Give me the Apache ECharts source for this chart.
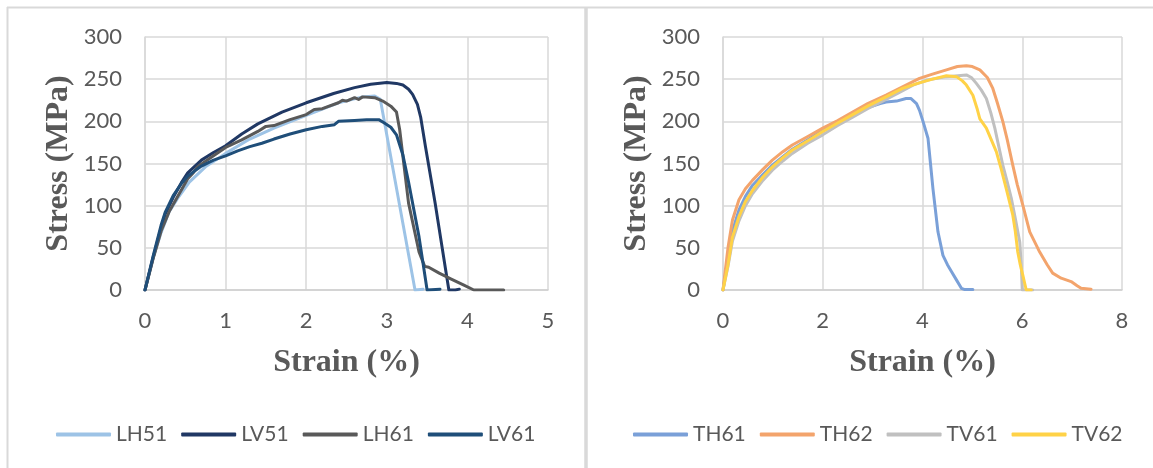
<!DOCTYPE html>
<html>
<head>
<meta charset="utf-8">
<script src="https://cdn.jsdelivr.net/npm/echarts@6/dist/echarts.min.js"></script>
<style>
html,body{margin:0;padding:0;background:#fff;}
#c{width:1153px;height:468px;}
</style>
</head>
<body>
<div id="c"></div>
<script>
// ---------- Left panel data (strain %, stress MPa) ----------
const xTicksLeft = [0, 1, 2, 3, 4, 5];
const yTicks = [0, 50, 100, 150, 200, 250, 300];

const LH51_strain = [0,0.1,0.2,0.3,0.4,0.55,0.75,1.0,1.3,1.6,2.0,2.4,2.7,2.85,2.92,3.35,3.45];
const LH51_stress = [0,38,68,93,108,128,146,162,179,192,207,222,229,230,226,0,1];

const LV51_strain = [0,0.1,0.2,0.25,0.35,0.45,0.53,0.7,0.85,1.0,1.2,1.4,1.7,2.0,2.34,2.6,2.8,3.0,3.12,3.2,3.27,3.32,3.38,3.42,3.48,3.6,3.73,3.77,3.85,3.9];
const LV51_stress = [0,38,74,90,110,127,139,154,163,171,185,197,211,222,233,240,244,246,245,243,238,232,220,205,170,103,24,0,0,1];

const LH61_strain = [0,0.1,0.2,0.3,0.4,0.53,0.6,0.65,0.8,1.0,1.2,1.4,1.5,1.6,1.8,2.0,2.1,2.2,2.4,2.45,2.5,2.6,2.65,2.7,2.85,2.95,3.05,3.12,3.16,3.27,3.4,3.47,3.52,3.65,3.8,3.95,4.08,4.45];
const LH61_stress = [0,37,70,93,110,132,139,146,156,169,178,188,194,195,202,208,214,215,222,225,224,228,226,229,228,224,218,211,190,103,45,28,27,20,13,6,0,0];

const LV61_strain = [0,0.1,0.2,0.25,0.35,0.45,0.53,0.7,0.85,1.0,1.15,1.3,1.45,1.6,1.8,2.0,2.2,2.35,2.4,2.6,2.75,2.9,2.97,3.05,3.12,3.2,3.27,3.4,3.5,3.66];
const LV61_stress = [0,40,77,92,112,126,135,147,154,159,165,170,174,179,185,190,194,196,200,201,202,202,198,193,184,160,128,63,0,1];

// ---------- Right panel data ----------
const xTicksRight = [0, 2, 4, 6, 8];

const TH61_strain = [0,0.1,0.19,0.32,0.45,0.59,0.8,0.99,1.2,1.39,1.7,2.0,2.3,2.6,2.94,3.15,3.27,3.48,3.67,3.77,3.88,3.94,4.01,4.11,4.16,4.21,4.31,4.41,4.5,4.58,4.68,4.78,4.85,5.01];
const TH61_stress = [0,38,70,95,111,124,137,148,158,167,178,189,199,208,217,221,223,224,227,227,221,213,200,180,150,120,69,41,30,22,12,2,0.5,0.5];

const TH62_strain = [0,0.1,0.19,0.32,0.45,0.59,0.8,0.99,1.2,1.39,1.7,2.0,2.3,2.6,2.9,3.27,3.6,3.94,4.2,4.48,4.7,4.88,5.0,5.15,5.3,5.41,5.5,5.61,5.7,5.81,5.9,6.01,6.15,6.35,6.5,6.61,6.78,6.98,7.1,7.18,7.38];
const TH62_stress = [0,50,83,107,120,130,143,154,164,172,182,192,201,211,221,231,241,251,256,261,265,266,265,261,252,239,222,200,178,148,125,101,69,45,30,20,14,10,5,2,1];

const TV61_strain = [0,0.1,0.19,0.32,0.45,0.59,0.8,0.99,1.2,1.39,1.7,2.0,2.3,2.6,2.9,3.2,3.5,3.81,4.1,4.48,4.88,4.98,5.08,5.18,5.28,5.37,5.45,5.53,5.61,5.7,5.78,5.87,5.95,5.98,6.0,6.21];
const TV61_stress = [0,28,58,82,100,114,130,142,153,162,174,184,195,205,215,224,233,243,249,253,255,252,245,237,227,210,192,170,148,128,109,82,57,30,0,0];

const TV62_strain = [0,0.1,0.19,0.32,0.45,0.59,0.8,0.99,1.2,1.39,1.7,2.0,2.3,2.6,2.9,3.27,3.6,3.9,4.2,4.48,4.68,4.8,4.88,5.01,5.1,5.15,5.28,5.38,5.48,5.58,5.68,5.81,5.86,5.91,5.96,6.01,6.08,6.18];
const TV62_stress = [0,30,63,87,105,118,134,146,157,166,177,188,198,208,218,229,239,245,250,254,253,248,243,231,214,203,192,178,164,143,120,89,70,45,30,18,0,0];

const leftNames = ['LH51','LV51','LH61','LV61'];
const rightNames = ['TH61','TH62','TV61','TV62'];
const colors = {
  LH51:'#9dc3e6', LV51:'#203864', LH61:'#595959', LV61:'#1f4e79',
  TH61:'#7aa0d8', TH62:'#f3a46c', TV61:'#c0c0c0', TV62:'#ffd247'
};
const dataMap = {
  LH51:[LH51_strain,LH51_stress], LV51:[LV51_strain,LV51_stress],
  LH61:[LH61_strain,LH61_stress], LV61:[LV61_strain,LV61_stress],
  TH61:[TH61_strain,TH61_stress], TH62:[TH62_strain,TH62_stress],
  TV61:[TV61_strain,TV61_stress], TV62:[TV62_strain,TV62_stress]
};
function pairs(n){ const [x,y]=dataMap[n]; return x.map((v,i)=>[v,y[i]]); }

const tickFont = {color:'#595959', fontFamily:'Lato', fontSize:22};
const titleFont = {color:'#595959', fontFamily:'Liberation Serif', fontWeight:'bold', fontSize:32};
const gridLine = {show:true, lineStyle:{color:'#d9d9d9', width:1.5}};

function xAxis(idx, ticks){
  return {
    type:'value', gridIndex:idx, min:ticks[0], max:ticks[ticks.length-1],
    interval:ticks[1]-ticks[0],
    name:'Strain (%)', nameLocation:'middle', nameGap:57, nameTextStyle:titleFont,
    axisLine:{show:true, lineStyle:{color:'#d0d0d0', width:1.5}},
    axisTick:{show:false},
    axisLabel:Object.assign({margin:20}, tickFont),
    splitLine:gridLine
  };
}
function yAxis(idx){
  return {
    type:'value', gridIndex:idx, min:yTicks[0], max:yTicks[yTicks.length-1],
    interval:yTicks[1]-yTicks[0],
    name:'Stress (MPa)', nameLocation:'middle', nameGap:70, nameTextStyle:titleFont,
    axisLine:{show:true, lineStyle:{color:'#d9d9d9', width:1.5}},
    axisTick:{show:false},
    axisLabel:Object.assign({margin:23}, tickFont),
    splitLine:gridLine
  };
}
function mkSeries(n, idx){
  return {
    name:n, type:'line', xAxisIndex:idx, yAxisIndex:idx,
    data:pairs(n), showSymbol:false, symbol:'none',
    smooth:false,
    lineStyle:{color:colors[n], width:3, cap:'round', join:'round'},
    itemStyle:{color:colors[n]},
    emphasis:{disabled:true}, animation:false
  };
}
function legend(names, left){
  return {
    data:names.map(n=>({name:n, icon:'roundRect', itemStyle:{color:colors[n]}})),
    left:left, top:424, width:560, padding:0, orient:'horizontal',
    itemWidth:55, itemHeight:4, itemGap:14,
    textStyle:{color:'#595959', fontFamily:'Lato', fontSize:21},
    selectedMode:false
  };
}

const chart = echarts.init(document.getElementById('c'), null, {renderer:'canvas'});
chart.setOption({
  animation:false,
  backgroundColor:'#ffffff',
  grid:[
    {left:145, top:37, width:403, height:253},
    {left:723, top:37, width:399, height:253}
  ],
  xAxis:[xAxis(0, xTicksLeft), xAxis(1, xTicksRight)],
  yAxis:[yAxis(0), yAxis(1)],
  legend:[legend(leftNames, 56), legend(rightNames, 633)],
  series:[...leftNames.map(n=>mkSeries(n,0)), ...rightNames.map(n=>mkSeries(n,1))],
  graphic:[
    {type:'line', shape:{x1:7, y1:7.5, x2:1153, y2:7.5}, style:{stroke:'#d9d9d9', lineWidth:2}, silent:true},
    {type:'line', shape:{x1:7.5, y1:7, x2:7.5, y2:468}, style:{stroke:'#d9d9d9', lineWidth:2}, silent:true},
    {type:'line', shape:{x1:586, y1:7, x2:586, y2:468}, style:{stroke:'#d9d9d9', lineWidth:3.5}, silent:true}
  ]
});
</script>
</body>
</html>
